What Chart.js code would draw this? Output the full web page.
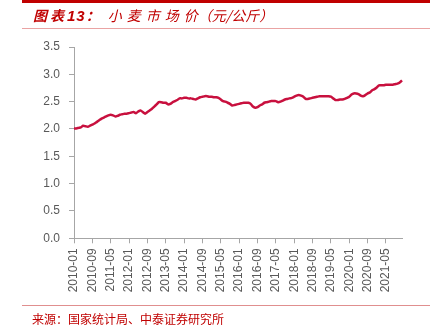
<!DOCTYPE html>
<html>
<head>
<meta charset="utf-8">
<script src="https://cdn.jsdelivr.net/npm/chart.js@4/dist/chart.umd.min.js"></script>
<style>
  html, body { margin: 0; padding: 0; background: #fff; }
  #wrap { position: relative; width: 435px; height: 331px; overflow: hidden; }
  #wrap canvas { position: absolute; left: 0; top: 0; }
  .rule { position: absolute; left: 22px; width: 408px; }
  .rule.top { top: 0; height: 3px; background: #c00000; }
  .rule.sub { top: 28px; height: 1px; background: #eaa3a3; }
  .rule.foot { top: 305px; height: 1px; background: #e08f8f; }
  .title {
    position: absolute; left: 33px; top: 5px;
    font-family: "Noto Sans CJK SC", sans-serif; font-size: 14px; font-style: italic;
    color: #c00000; white-space: nowrap;
  }
  .title .lead { font-weight: bold; letter-spacing: 3px; }
  .title .num { font-family: "Liberation Sans", sans-serif; font-weight: bold; font-size: 15px; letter-spacing: 1px; }
  .title .name { margin-left: 8px; letter-spacing: 5px; }
  .title .unit { margin-left: -5px; letter-spacing: 0; }
  .source {
    position: absolute; left: 32px; top: 310px;
    font-family: "Noto Sans CJK SC", sans-serif; font-size: 12px;
    color: #c00000; white-space: nowrap;
  }
</style>
</head>
<body>
<div id="wrap">
  <canvas id="wheat" width="435" height="331"></canvas>
  <div class="rule top"></div>
  <div class="title"><span class="lead">图表</span><span class="num">13</span><b>：</b><span class="name">小麦市场价</span><span class="unit">（元/公斤）</span></div>
  <div class="rule sub"></div>
  <div class="rule foot"></div>
  <div class="source">来源：国家统计局、中泰证券研究所</div>
</div>
<script>
// 月度小麦市场价，2010-01 至 2021-12（元/公斤）
const years = ['2010','2011','2012','2013','2014','2015','2016','2017','2018','2019','2020','2021'];
const price2010 = [2.01,2.01,2.02,2.03,2.06,2.05,2.04,2.06,2.08,2.10,2.13,2.16];
const price2011 = [2.19,2.21,2.23,2.25,2.26,2.25,2.23,2.24,2.26,2.27,2.28,2.28];
const price2012 = [2.29,2.30,2.31,2.29,2.32,2.34,2.31,2.28,2.31,2.34,2.37,2.41];
const price2013 = [2.45,2.49,2.49,2.48,2.48,2.45,2.46,2.49,2.51,2.53,2.56,2.56];
const price2014 = [2.57,2.57,2.56,2.56,2.55,2.54,2.56,2.58,2.59,2.60,2.60,2.59];
const price2015 = [2.59,2.58,2.58,2.57,2.54,2.51,2.50,2.48,2.46,2.43,2.44,2.45];
const price2016 = [2.46,2.47,2.48,2.48,2.48,2.46,2.41,2.39,2.40,2.43,2.45,2.48];
const price2017 = [2.49,2.50,2.51,2.51,2.51,2.49,2.50,2.52,2.54,2.55,2.56,2.57];
const price2018 = [2.59,2.61,2.62,2.61,2.59,2.55,2.55,2.56,2.57,2.58,2.59,2.60];
const price2019 = [2.60,2.60,2.60,2.60,2.59,2.56,2.53,2.53,2.54,2.54,2.55,2.57];
const price2020 = [2.59,2.63,2.65,2.65,2.64,2.61,2.60,2.62,2.65,2.67,2.71,2.73];
const price2021 = [2.76,2.80,2.80,2.80,2.81,2.81,2.81,2.81,2.82,2.83,2.85,2.89];

const prices = [].concat(price2010, price2011, price2012, price2013, price2014, price2015,
  price2016, price2017, price2018, price2019, price2020, price2021);

// 类目：YYYY-MM
const months = [];
years.forEach(y => {
  for (let m = 1; m <= 12; m++) months.push(y + '-' + String(m).padStart(2, '0'));
});

const yTicks = [0, 0.5, 1.0, 1.5, 2.0, 2.5, 3.0, 3.5];
const LABEL_STEP = 8;   // 每 8 个月一个刻度标签

const axisGrey = '#a6a6a6';
const textGrey = '#595959';

new Chart(document.getElementById('wheat'), {
  type: 'line',
  data: {
    labels: months,
    datasets: [{
      label: '小麦市场价',
      data: prices,
      borderColor: '#c8103e',
      borderWidth: 2.5,
      pointRadius: 0,
      tension: 0.2,
      fill: false,
    }],
  },
  options: {
    responsive: false,
    animation: false,
    layout: { padding: { left: 0, right: 33, top: 47, bottom: 0 } },
    plugins: { legend: { display: false }, tooltip: { enabled: false } },
    scales: {
      x: {
        type: 'category',
        offset: false,
        afterFit: s => { s.height = 92.7; },
        border: { display: true, color: axisGrey, width: 1 },
        grid: { display: true, drawOnChartArea: false, drawTicks: true, tickLength: 5, color: axisGrey },
        ticks: {
          autoSkip: false,
          minRotation: 90,
          maxRotation: 90,
          padding: 5,
          color: textGrey,
          font: { family: 'Liberation Sans, Arial, sans-serif', size: 12 },
          callback: function (v, i) { return i % LABEL_STEP === 0 ? months[i] : null; },
        },
      },
      y: {
        min: 0,
        max: 3.5,
        afterFit: s => { s.width = 74; },
        afterBuildTicks: s => { s.ticks = yTicks.map(v => ({ value: v })); },
        border: { display: true, color: axisGrey, width: 1 },
        grid: { display: true, drawOnChartArea: false, drawTicks: true, tickLength: 5, color: axisGrey },
        ticks: {
          padding: 9,
          color: textGrey,
          font: { family: 'Liberation Sans, Arial, sans-serif', size: 12 },
          callback: v => v.toFixed(1),
        },
      },
    },
  },
});
</script>
</body>
</html>
